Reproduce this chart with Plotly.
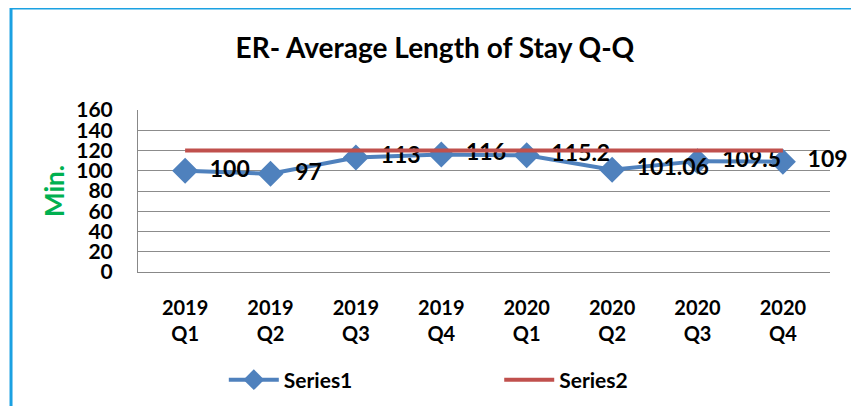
import plotly.graph_objects as go

quarters = ["2019<br>Q1", "2019<br>Q2", "2019<br>Q3", "2019<br>Q4",
            "2020<br>Q1", "2020<br>Q2", "2020<br>Q3", "2020<br>Q4"]
series1 = [100, 97, 113, 116, 115.2, 101.06, 109.5, 109]
series1_labels = ["100", "97", "113", "116", "115.2", "101.06", "109.5", "109"]
series2 = [120, 120, 120, 120, 120, 120, 120, 120]

FONT = "Lato"

fig = go.Figure()
fig.add_trace(go.Scatter(
    x=quarters, y=series1, name="Series1", mode="lines+markers+text",
    text=series1_labels, texttemplate="\u00a0\u00a0%{text}", textposition="middle right",
    textfont=dict(family=FONT, size=23, color="black", weight="bold"),
    line=dict(color="#4F81BD", width=4),
    marker=dict(symbol="diamond", size=20, color="#4F81BD"),
    cliponaxis=False, legend="legend",
))
fig.add_trace(go.Scatter(
    x=quarters, y=series2, name="Series2", mode="lines",
    line=dict(color="#C0504D", width=4),
    legend="legend2",
))

# outer chart frame
fig.add_shape(type="rect", xref="paper", yref="paper",
              x0=-0.1835, x1=1.036, y0=-0.85, y1=1.63,
              line=dict(color="#1BA1E2", width=3), layer="below")

legend_font = dict(size=21, family=FONT, weight="bold")

# page body adds an 8px offset, so margins are shifted to compensate
fig.update_layout(
    width=859, height=406,
    margin=dict(l=130, r=37, t=102, b=142, autoexpand=False),
    paper_bgcolor="white", plot_bgcolor="white",
    font=dict(family=FONT, color="black"),
    title=dict(text="<b>ER- Average Length of Stay Q-Q</b>", x=0.497, xref="container",
               y=0.9, yanchor="middle", font=dict(size=28, family=FONT)),
    showlegend=True,
    legend=dict(orientation="h", x=0.124, xanchor="left", y=-0.667, yanchor="middle",
                font=legend_font, itemwidth=50),
    legend2=dict(orientation="h", x=0.522, xanchor="left", y=-0.667, yanchor="middle",
                 font=legend_font, itemwidth=50),
    xaxis=dict(showgrid=False, showline=True, linecolor="#888888", linewidth=1,
               tickfont=dict(size=20, family=FONT, weight="bold"), ticks="",
               ticklabelstandoff=18, automargin=False),
    yaxis=dict(range=[0, 160], dtick=20, showgrid=True, gridcolor="#8c8c8c", gridwidth=1,
               showline=True, linecolor="#888888", linewidth=1, zeroline=False,
               tickfont=dict(size=21, family=FONT, weight="bold"), ticks="",
               ticklabelstandoff=20, automargin=False,
               title=dict(text="<b>Min.</b>", font=dict(size=26, color="#00B050", family=FONT),
                          standoff=4)),
)

fig.write_html("out.html")
